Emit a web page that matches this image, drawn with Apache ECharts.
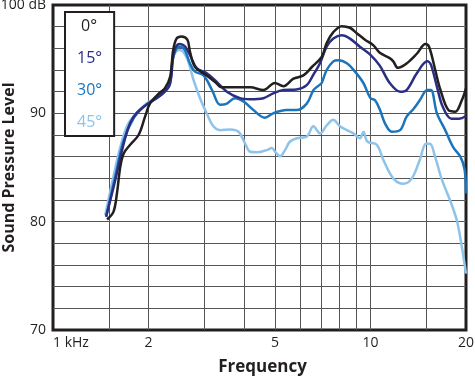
<!DOCTYPE html>
<html>
<head>
<meta charset="utf-8">
<script src="https://cdn.jsdelivr.net/npm/echarts@6/dist/echarts.min.js"></script>
<style>
  html, body { margin: 0; padding: 0; background: #fff; }
  #chart { width: 475px; height: 378px; }
</style>
</head>
<body>
<div id="chart"></div>
<script>
  // frequency in kHz, level in dB
  var deg0 = [
    [1.48, 80.2], [1.55, 80.9], [1.59, 82.6], [1.63, 85.1], [1.67, 86.3], [1.75, 87.1],
    [1.86, 88.0], [1.95, 89.7], [2.02, 90.9], [2.15, 91.8], [2.25, 92.3], [2.34, 93.4],
    [2.39, 95.8], [2.45, 96.9], [2.54, 97.1], [2.65, 96.8], [2.70, 95.7], [2.80, 94.3],
    [3.05, 93.5], [3.24, 92.9], [3.40, 92.4], [3.70, 92.4], [4.18, 92.4], [4.60, 92.15],
    [5.0, 92.8], [5.32, 92.5], [5.72, 93.2], [6.15, 93.5], [6.55, 94.3], [7.02, 95.2],
    [7.28, 96.5], [7.64, 97.5], [8.12, 98.05], [8.62, 97.9], [9.05, 97.4], [9.61, 96.8],
    [10.2, 96.3], [10.7, 95.6], [11.5, 95.1], [11.8, 94.8], [12.2, 94.2], [13.0, 94.6],
    [14.0, 95.5], [14.9, 96.4], [15.3, 96.15], [16.0, 94.0], [16.6, 92.2], [17.6, 90.3],
    [18.5, 90.15], [19.4, 91.2], [20, 92.3]
  ];
  var deg15 = [
    [1.47, 80.45], [1.57, 83.8], [1.67, 87.2], [1.75, 89.1], [1.83, 90.0], [1.97, 90.8],
    [2.12, 91.4], [2.25, 92.0], [2.34, 92.8], [2.39, 95.2], [2.44, 96.15], [2.51, 96.4],
    [2.6, 96.2], [2.7, 95.4], [2.84, 94.15], [3.05, 93.7], [3.28, 92.9], [3.53, 92.0],
    [3.88, 91.4], [4.17, 91.3], [4.6, 91.4], [4.94, 91.85], [5.32, 92.15], [5.85, 92.2],
    [6.3, 92.6], [6.62, 93.6], [6.93, 94.6], [7.28, 96.15], [7.64, 96.9], [8.12, 97.2],
    [8.62, 96.9], [9.26, 96.15], [10.0, 95.4], [10.7, 94.4], [11.5, 92.8], [12.4, 92.0],
    [13.0, 92.15], [14.0, 93.7], [15.1, 94.8], [15.5, 94.5], [16.2, 92.45], [16.9, 90.6],
    [18.0, 89.5], [19.0, 89.5], [20, 89.75]
  ];
  var deg30 = [
    [1.47, 80.45], [1.57, 84.15], [1.67, 87.5], [1.79, 89.5], [1.93, 90.6], [2.07, 91.2],
    [2.22, 91.85], [2.33, 92.6], [2.38, 94.9], [2.44, 95.9], [2.51, 96.15], [2.6, 95.85],
    [2.7, 94.6], [2.8, 93.85], [2.98, 93.5], [3.17, 92.15], [3.36, 90.8], [3.53, 90.9],
    [3.74, 91.4], [3.98, 91.1], [4.28, 90.3], [4.65, 89.6], [4.94, 90.0], [5.44, 90.3],
    [5.85, 90.3], [6.3, 90.9], [6.62, 92.15], [6.9, 92.6], [7.02, 92.8], [7.28, 94.0],
    [7.64, 94.8], [7.92, 94.9], [8.45, 94.6], [8.94, 93.85], [9.5, 92.8], [10.0, 91.4],
    [10.34, 91.2], [10.72, 90.3], [11.1, 89.1], [11.67, 88.3], [12.4, 88.45], [13.0, 89.7],
    [13.7, 90.45], [14.3, 91.2], [15.1, 92.15], [15.5, 92.15], [16.2, 90.0], [17.2, 88.45],
    [18.2, 86.9], [19.2, 86.0], [19.8, 84.8], [20, 82.6]
  ];
  var deg45 = [
    [1.46, 80.6], [1.55, 84.15], [1.63, 86.9], [1.71, 88.8], [1.79, 89.7], [1.97, 90.9],
    [2.12, 91.5], [2.25, 92.15], [2.33, 92.8], [2.38, 94.9], [2.44, 95.7], [2.51, 95.85],
    [2.64, 95.1], [2.77, 93.1], [2.905, 91.4], [3.05, 90.0], [3.20, 88.8], [3.36, 88.45],
    [3.61, 88.5], [3.84, 88.3], [4.03, 87.2], [4.18, 86.45], [4.38, 86.4], [4.71, 86.6],
    [4.89, 86.8], [5.01, 86.45], [5.19, 86.05], [5.38, 86.6], [5.58, 87.4], [5.86, 87.7],
    [6.30, 87.85], [6.61, 88.8], [6.94, 88.15], [7.29, 88.9], [7.64, 89.4], [8.02, 88.8],
    [8.42, 88.45], [8.83, 88.15], [9.27, 87.7], [9.50, 88.3], [9.78, 87.4], [10.47, 87.1],
    [10.98, 85.7], [11.8, 84.0], [12.7, 83.5], [13.5, 84.0], [14.3, 85.7], [14.97, 87.2],
    [15.4, 87.2], [15.98, 86.0], [16.8, 83.85], [17.8, 82.0], [18.7, 80.15], [19.4, 77.7],
    [20, 75.2]
  ];

  var names = ['0°', '15°', '30°', '45°'];
  var colors = ['#231f20', '#2b2e83', '#1b75bc', '#8ec3ea'];
  var gridFreqs = [1, 1.5, 2, 3, 4, 5, 6, 7, 8, 9, 10, 15, 20];
  var labelFreqs = [1, 2, 5, 10, 20];
  var levelLabels = [70, 80, 90, 100];

  var font = '"Open Sans", "Noto Sans", sans-serif';
  var chart = echarts.init(document.getElementById('chart'));

  var seriesData = [deg0, deg15, deg30, deg45];
  var series = [];
  for (var i = 3; i >= 0; i--) {
    series.push({
      name: names[i],
      type: 'line',
      data: seriesData[i],
      smooth: 0.35,
      showSymbol: false,
      color: colors[i],
      lineStyle: { width: 2.5, color: colors[i] }
    });
  }

  chart.setOption({
    animation: false,
    textStyle: { fontFamily: font },
    grid: {
      left: 53, right: 9, top: 5, bottom: 48,
      outerBoundsMode: 'none',
      show: true, borderColor: '#231f20', borderWidth: 3, backgroundColor: 'transparent'
    },
    legend: {
      orient: 'vertical',
      left: 65, top: 12,
      icon: 'none',
      itemWidth: 0, itemHeight: 16, itemGap: 16,
      padding: [6, 12, 6, 7],
      backgroundColor: '#fff',
      borderColor: '#231f20', borderWidth: 2,
      selectedMode: false,
      textStyle: { fontSize: 16, fontFamily: font, lineHeight: 16 },
      data: names.map(function (n, i) {
        return { name: n, textStyle: { color: colors[i], padding: [0, 0, 0, n === '0°' ? 4 : 0] } };
      })
    },
    xAxis: {
      type: 'log', logBase: 10, min: 1, max: 20,
      name: 'Frequency', nameLocation: 'middle', nameGap: 29, nameMoveOverlap: false,
      nameTextStyle: { fontSize: 17, fontWeight: 'bold', color: '#231f20', fontFamily: font, padding: [0, 0, 0, 6] },
      axisLine: { show: false },
      axisTick: { show: false, customValues: gridFreqs },
      axisLabel: {
        customValues: labelFreqs,
        fontSize: 14, color: '#231f20', margin: 6,
        alignMinLabel: 'left',
        formatter: function (v) { return v === 1 ? '1 kHz' : String(v); }
      },
      splitLine: { show: true, showMinLine: false, showMaxLine: false, lineStyle: { color: '#555', width: 1 } }
    },
    yAxis: {
      type: 'value', min: 70, max: 100, interval: 2,
      name: 'Sound Pressure Level', nameLocation: 'middle', nameGap: 36, nameMoveOverlap: false,
      nameTextStyle: { fontSize: 16, fontWeight: 'bold', color: '#231f20', fontFamily: font },
      axisLine: { show: false },
      axisTick: { show: false },
      axisLabel: {
        customValues: levelLabels,
        fontSize: 14, color: '#231f20', margin: 7,
        formatter: function (v) { return v === 100 ? '100 dB' : String(v); }
      },
      splitLine: { show: true, showMinLine: false, showMaxLine: false, lineStyle: { color: '#555', width: 1 } }
    },
    series: series
  });
</script>
</body>
</html>
